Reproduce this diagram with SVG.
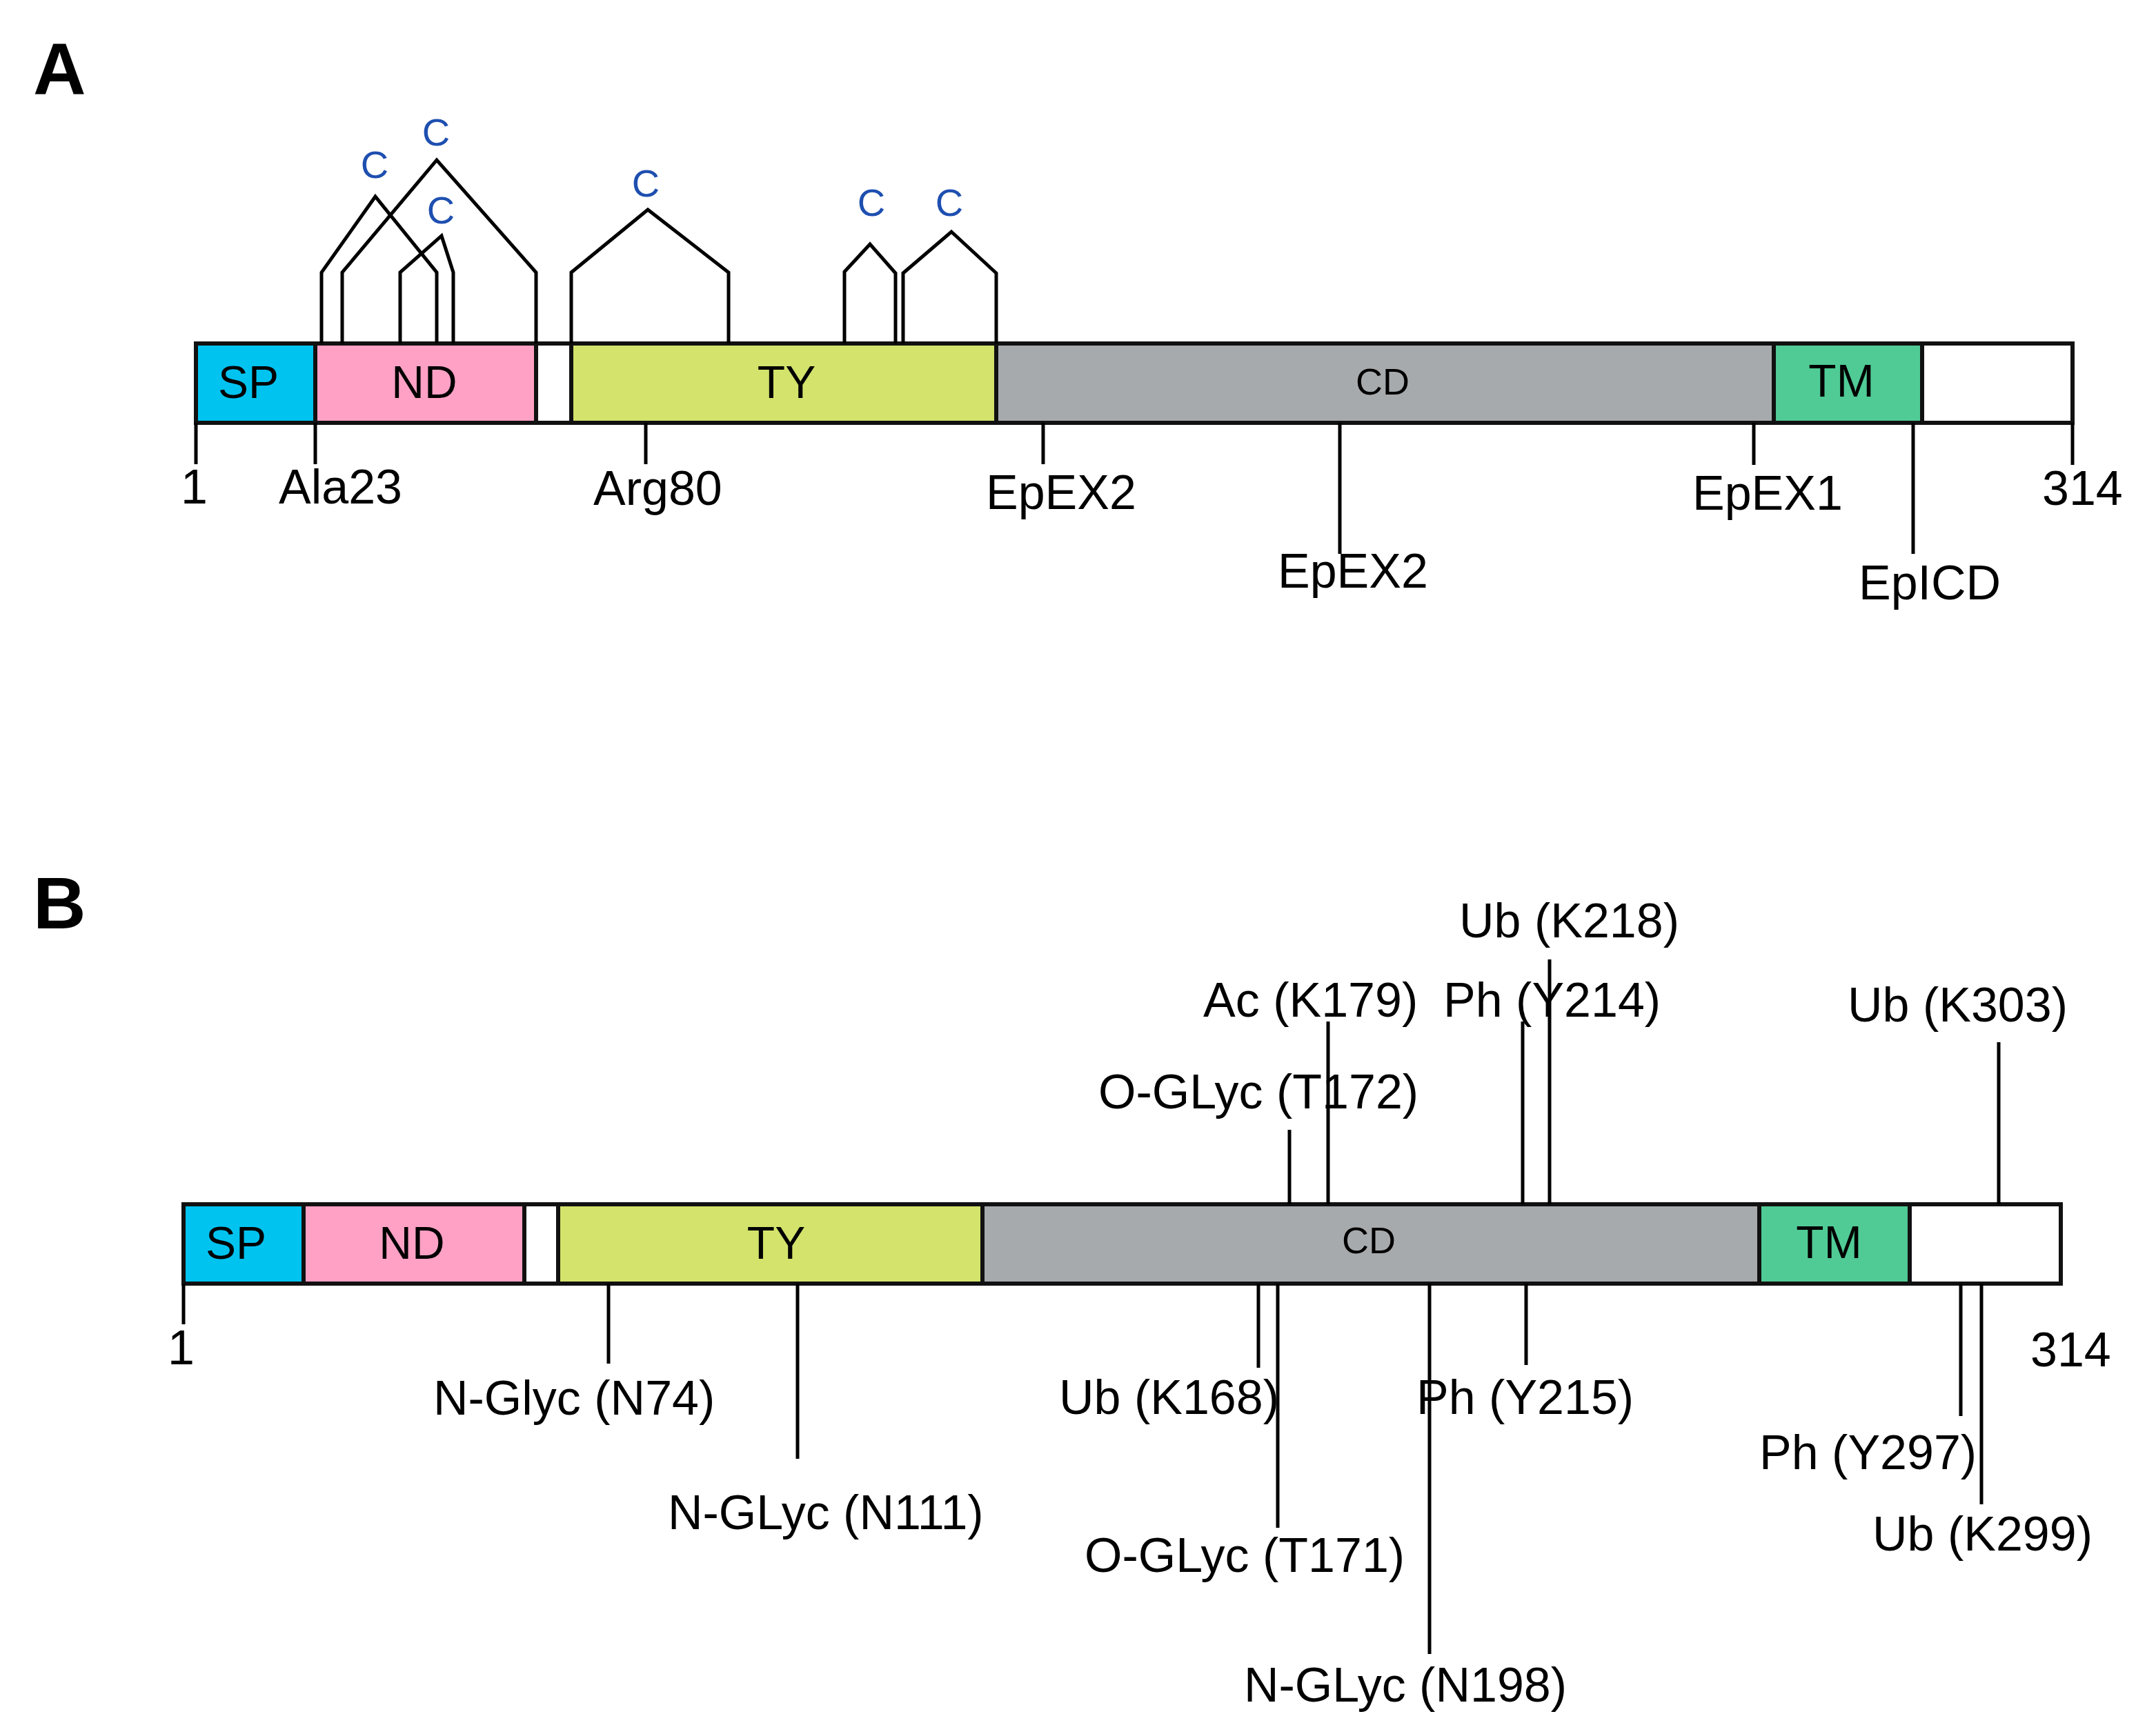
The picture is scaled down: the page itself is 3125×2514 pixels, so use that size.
<svg xmlns="http://www.w3.org/2000/svg" width="3125" height="2514" viewBox="0 0 3125 2514">
<style>
text{font-family:"Liberation Sans",Arial,sans-serif;fill:#000}
.lbl{font-size:70px}
.dom{font-size:66px;text-anchor:middle}
.cd{font-size:54px;text-anchor:middle}
.c{font-size:56px;fill:#1E4FB0;text-anchor:middle}
.panel{font-size:106px;font-weight:bold}
.seg{stroke:#111;stroke-width:6}
.tick{stroke:#000;stroke-width:5;fill:none}
.bond{stroke:#000;stroke-width:5;fill:none;stroke-linejoin:miter}
.sp{fill:#00C3F0}.nd{fill:#FFA1C5}.ty{fill:#D3E36B}.cdf{fill:#A7AAAD}.tm{fill:#50CB96}.wh{fill:#fff}
</style>
<rect width="3125" height="2514" fill="#fff"/>
<text class="panel" x="48" y="137">A</text>
<text class="panel" x="48" y="1346">B</text>

<g id="barA">
<rect class="seg sp" x="284" y="498" width="173" height="115"/>
<rect class="seg nd" x="457" y="498" width="320" height="115"/>
<rect class="seg wh" x="777" y="498" width="51" height="115"/>
<rect class="seg ty" x="828" y="498" width="616" height="115"/>
<rect class="seg cdf" x="1444" y="498" width="1127" height="115"/>
<rect class="seg tm" x="2571" y="498" width="215" height="115"/>
<rect class="seg wh" x="2786" y="498" width="218" height="115"/>
<text class="dom" x="360" y="577">SP</text>
<text class="dom" x="615" y="577">ND</text>
<text class="dom" x="1140" y="577">TY</text>
<text class="cd" x="2004" y="572">CD</text>
<text class="dom" x="2669" y="575">TM</text>
</g>

<g id="bondsA">
<polyline class="bond" points="466,498 466,395 544,285 633,395 633,498"/>
<polyline class="bond" points="496,498 496,395 633,232 777,395 777,498"/>
<polyline class="bond" points="580,498 580,395 640,342 657,395 657,498"/>
<polyline class="bond" points="828,498 828,395 939,304 1056,395 1056,498"/>
<polyline class="bond" points="1224,498 1224,394 1261,354 1298,396 1298,498"/>
<polyline class="bond" points="1309,498 1309,396 1379,336 1444,396 1444,498"/>
<text class="c" x="543" y="258">C</text>
<text class="c" x="632" y="211">C</text>
<text class="c" x="639" y="324">C</text>
<text class="c" x="936" y="285">C</text>
<text class="c" x="1263" y="313">C</text>
<text class="c" x="1376" y="313">C</text>
</g>

<g id="ticksA">
<line class="tick" x1="284" y1="613" x2="284" y2="673"/>
<line class="tick" x1="457" y1="613" x2="457" y2="673"/>
<line class="tick" x1="936" y1="613" x2="936" y2="673"/>
<line class="tick" x1="1512" y1="613" x2="1512" y2="673"/>
<line class="tick" x1="1942" y1="613" x2="1942" y2="803"/>
<line class="tick" x1="2542" y1="613" x2="2542" y2="674"/>
<line class="tick" x1="2773" y1="613" x2="2773" y2="803"/>
<line class="tick" x1="3004" y1="613" x2="3004" y2="674"/>
</g>
<g id="labelsA">
<text class="lbl" x="262" y="730">1</text>
<text class="lbl" x="404" y="730">Ala23</text>
<text class="lbl" x="860" y="732">Arg80</text>
<text class="lbl" x="1429" y="738">EpEX2</text>
<text class="lbl" x="1852" y="852">EpEX2</text>
<text class="lbl" x="2453" y="739">EpEX1</text>
<text class="lbl" x="2694" y="869">EpICD</text>
<text class="lbl" x="2960" y="732">314</text>
</g>

<g id="barB">
<rect class="seg sp" x="266" y="1746" width="174" height="115"/>
<rect class="seg nd" x="440" y="1746" width="320" height="115"/>
<rect class="seg wh" x="760" y="1746" width="49" height="115"/>
<rect class="seg ty" x="809" y="1746" width="615" height="115"/>
<rect class="seg cdf" x="1424" y="1746" width="1126" height="115"/>
<rect class="seg tm" x="2550" y="1746" width="218" height="115"/>
<rect class="seg wh" x="2768" y="1746" width="219" height="115"/>
<text class="dom" x="342" y="1825">SP</text>
<text class="dom" x="597" y="1825">ND</text>
<text class="dom" x="1125" y="1825">TY</text>
<text class="cd" x="1984" y="1817">CD</text>
<text class="dom" x="2651" y="1824">TM</text>
</g>

<g id="ticksB">
<line class="tick" x1="266" y1="1861" x2="266" y2="1920"/>
<line class="tick" x1="882" y1="1861" x2="882" y2="1977"/>
<line class="tick" x1="1156" y1="1861" x2="1156" y2="2115"/>
<line class="tick" x1="1824" y1="1861" x2="1824" y2="1983"/>
<line class="tick" x1="1852" y1="1861" x2="1852" y2="2215"/>
<line class="tick" x1="2072" y1="1861" x2="2072" y2="2398"/>
<line class="tick" x1="2212" y1="1861" x2="2212" y2="1979"/>
<line class="tick" x1="2842" y1="1861" x2="2842" y2="2053"/>
<line class="tick" x1="2872" y1="1861" x2="2872" y2="2181"/>
<line class="tick" x1="1869" y1="1638" x2="1869" y2="1746"/>
<line class="tick" x1="1925" y1="1481" x2="1925" y2="1746"/>
<line class="tick" x1="2207" y1="1481" x2="2207" y2="1746"/>
<line class="tick" x1="2246" y1="1391" x2="2246" y2="1746"/>
<line class="tick" x1="2897" y1="1511" x2="2897" y2="1746"/>
</g>
<g id="labelsB">
<text class="lbl" x="243" y="1978">1</text>
<text class="lbl" x="628" y="2051">N-Glyc (N74)</text>
<text class="lbl" x="968" y="2217">N-GLyc (N111)</text>
<text class="lbl" x="1535" y="2050">Ub (K168)</text>
<text class="lbl" x="1572" y="2279">O-GLyc (T171)</text>
<text class="lbl" x="1803" y="2467">N-GLyc (N198)</text>
<text class="lbl" x="2053" y="2050">Ph (Y215)</text>
<text class="lbl" x="2550" y="2130">Ph (Y297)</text>
<text class="lbl" x="2714" y="2248">Ub (K299)</text>
<text class="lbl" x="2943" y="1981">314</text>
<text class="lbl" x="1592" y="1607">O-GLyc (T172)</text>
<text class="lbl" x="1744" y="1474">Ac (K179)</text>
<text class="lbl" x="2092" y="1474">Ph (Y214)</text>
<text class="lbl" x="2115" y="1359">Ub (K218)</text>
<text class="lbl" x="2678" y="1481">Ub (K303)</text>
</g>
</svg>
